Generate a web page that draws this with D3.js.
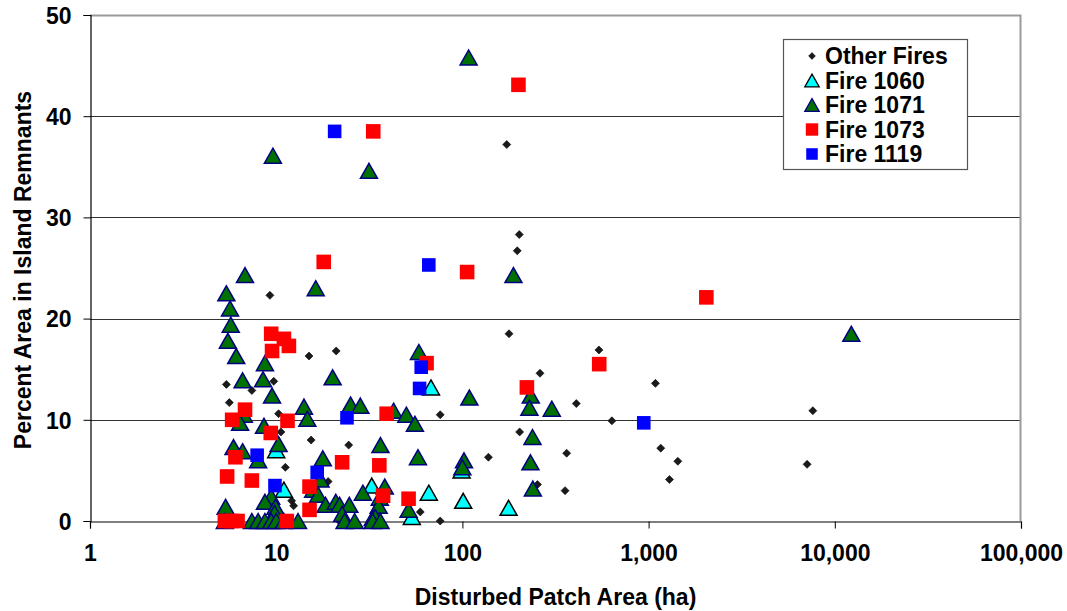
<!DOCTYPE html>
<html>
<head>
<meta charset="utf-8">
<script src="https://cdn.jsdelivr.net/npm/d3@7"></script>
<style>
  html, body { margin: 0; padding: 0; background: #fff; }
  svg { display: block; }
  text { font-family: "Liberation Sans", Arial, sans-serif; font-weight: bold; fill: #000; }
</style>
</head>
<body>
<svg id="chart" width="1067" height="611"></svg>
<script>
// Disturbed patch area (ha) vs. percent of area left in unburned island remnants
// Each point: [patch area (ha), percent area in island remnants]
const otherFires = [
  [173, 37.2], [202, 28.3], [197, 26.7], [178, 18.5], [541, 16.9], [261, 14.6],
  [1088, 13.6], [409, 11.6], [7620, 10.9], [635, 9.9], [203, 8.8], [363, 6.7],
  [1162, 7.2], [1435, 5.9], [1294, 4.1], [7100, 5.6], [253, 3.6], [356, 3.0],
  [138, 6.3], [76, 10.5], [24.5, 7.5], [59.4, 0.9], [76, 0], [21.8, 0],
  [15, 16.3], [21, 16.8], [9.25, 22.3], [5.4, 13.5], [9.7, 13.8], [7.4, 12.9],
  [5.6, 11.7], [10.3, 10.6], [10.6, 8.8], [11.2, 5.3], [12.1, 2.0], [12.4, 1.5],
  [15.4, 8.0], [19, 3.9]
];
const fire1060 = [
  [67.8, 13.2], [10, 7.0], [11, 3.1], [32.6, 3.5], [66, 2.8], [101, 2.0],
  [99, 5.0], [53.5, 0.4], [177, 1.3]
];
const fire1071 = [
  [108, 45.8], [9.6, 36.1], [31.5, 34.6], [188, 24.3], [12270, 18.5],
  [6.8, 24.3], [16.3, 23.0], [5.4, 22.5], [5.65, 21.0], [5.7, 19.4], [5.5, 17.8],
  [6.1, 16.3], [58.4, 16.7], [8.7, 15.6], [20.1, 14.2], [8.5, 14.0], [6.6, 13.9],
  [9.5, 12.4], [233, 12.4], [229, 11.2], [302, 11.1], [109, 12.2], [25.1, 11.5],
  [28.3, 11.4], [14.1, 11.3], [14.7, 10.1], [42.7, 10.9], [50, 10.5], [55.6, 9.6],
  [6.7, 10.5], [6.4, 9.7], [8.6, 9.4], [238, 8.3], [10.3, 7.6], [36.3, 7.5],
  [5.9, 7.3], [6.6, 6.9], [8.0, 6.0], [17.8, 6.2], [57.7, 6.3], [102, 6.0],
  [100, 5.3], [232, 5.8], [17.3, 4.1], [15.8, 3.1], [16.8, 2.6], [239, 3.2],
  [29.2, 2.8], [38.3, 3.4], [36, 2.3], [35.5, 1.5], [51.4, 1.1], [9.4, 2.4],
  [8.7, 1.9], [9.9, 1.4], [5.35, 1.4], [18.4, 1.6], [20.9, 1.9], [21.9, 1.6],
  [24.7, 1.6], [22.6, 0.7], [33, 0.3], [34, 0.4], [9.8, 0.8],
  [5.3, 0], [7.4, 0], [8.0, 0], [8.7, 0], [9.4, 0], [10.0, 0], [11, 0], [13.1, 0],
  [23.3, 0], [26.4, 0], [33, 0], [36.3, 0]
];
const fire1073 = [
  [200, 43.1], [33.2, 38.5], [18, 25.6], [106, 24.6], [2042, 22.1],
  [9.4, 18.5], [11.0, 18.0], [11.7, 17.3], [9.5, 16.8], [543, 15.5], [64.2, 15.6],
  [222, 13.2], [39.2, 10.6], [6.8, 11.0], [5.8, 10.0], [11.5, 9.9], [9.35, 8.7],
  [22.6, 5.8], [35.8, 5.5], [6.04, 6.3], [5.45, 4.4], [7.4, 4.0], [15.1, 3.4],
  [37.5, 2.5], [51.4, 2.2], [15.1, 1.1], [5.3, 0], [5.75, 0], [6.2, 0], [11.4, 0]
];
const fire1119 = [
  [20.6, 38.5], [66, 25.3], [60.1, 15.2], [58.9, 13.1], [24, 10.2], [942, 9.7],
  [7.9, 6.5], [16.6, 4.8], [9.85, 3.5]
];

const xTicks = [1, 10, 100, 1000, 10000, 100000];
const yTicks = [0, 10, 20, 30, 40, 50];
const seriesNames = ["Other Fires", "Fire 1060", "Fire 1071", "Fire 1073", "Fire 1119"];

const svg = d3.select("#chart");
const plotL = 90, plotR = 1021, plotT = 15, plotB = 521;
const fontSize = 23;

const x = d3.scaleLog().domain([1, 100000]).range([plotL, plotR]);
const y = d3.scaleLinear().domain([0, 50]).range([plotB, plotT]);

// horizontal gridlines
svg.append("g")
  .selectAll("line")
  .data(yTicks.filter(v => v > 0 && v < 50))
  .join("line")
  .attr("x1", plotL).attr("x2", plotR)
  .attr("y1", d => Math.round(y(d)) + 0.5).attr("y2", d => Math.round(y(d)) + 0.5)
  .attr("stroke", "#333").attr("stroke-width", 1);

// plot frame (top and right)
svg.append("path")
  .attr("d", `M${plotL},${plotT + 0.5}H${plotR - 0.5}V${plotB}`)
  .attr("fill", "none").attr("stroke", "#9a9a9a").attr("stroke-width", 2);

// axes
const fmt = d3.format(",");
const xAxis = svg.append("g")
  .attr("transform", `translate(0,${plotB + 0.5})`)
  .call(d3.axisBottom(x).tickValues(xTicks).tickFormat(fmt).tickSize(7).tickPadding(16));
const yAxis = svg.append("g")
  .attr("transform", `translate(${plotL + 0.5},0)`)
  .call(d3.axisLeft(y).tickValues(yTicks).tickSize(7).tickPadding(12));

[xAxis, yAxis].forEach(g => {
  g.select(".domain").attr("stroke", "#000").attr("stroke-width", 1.2);
  g.selectAll(".tick line").attr("stroke", "#000");
  g.selectAll(".tick text")
    .attr("font-family", '"Liberation Sans", Arial, sans-serif')
    .attr("font-weight", "bold")
    .attr("font-size", fontSize)
    .attr("fill", "#000");
});
yAxis.selectAll(".tick text").attr("dy", "0.36em");

// axis titles
svg.append("text")
  .attr("x", (plotL + plotR) / 2)
  .attr("y", 605)
  .attr("text-anchor", "middle")
  .attr("font-size", fontSize)
  .text("Disturbed Patch Area (ha)");
svg.append("text")
  .attr("transform", `translate(31,${(plotT + plotB) / 2 + 2}) rotate(-90)`)
  .attr("text-anchor", "middle")
  .attr("font-size", fontSize)
  .text("Percent Area in Island Remnants");

// marker shapes
const triPath = "M0,-7.5L8.5,7.5L-8.5,7.5Z";
const sqPath = s => `M${-s},${-s}H${s}V${s}H${-s}Z`;
const diaPath = "M0,-4L4,0L0,4L-4,0Z";

const styles = [
  { data: otherFires, d: diaPath, fill: "#1a1a1a", stroke: "#000", sw: 0.6 },
  { data: fire1060, d: triPath, fill: "#00ffff", stroke: "#000", sw: 1.5 },
  { data: fire1071, d: triPath, fill: "#007000", stroke: "#000080", sw: 1.5 },
  { data: fire1073, d: sqPath(7.3), fill: "#ff0000", stroke: "none", sw: 0 },
  { data: fire1119, d: sqPath(6.8), fill: "#0000ff", stroke: "none", sw: 0 }
];

styles.forEach(s => {
  svg.append("g")
    .selectAll("path")
    .data(s.data)
    .join("path")
    .attr("transform", d => `translate(${x(d[0])},${y(d[1])})`)
    .attr("d", s.d)
    .attr("fill", s.fill)
    .attr("stroke", s.stroke)
    .attr("stroke-width", s.sw)
    .attr("stroke-linejoin", "miter");
});

// legend
const lg = svg.append("g").attr("transform", "translate(783,39)");
lg.append("rect")
  .attr("x", 0.5).attr("y", 0.5).attr("width", 184).attr("height", 130)
  .attr("fill", "#fff").attr("stroke", "#555").attr("stroke-width", 1.2);
const items = lg.selectAll("g.item")
  .data(seriesNames)
  .join("g")
  .attr("class", "item")
  .attr("transform", (d, i) => `translate(0,${17 + i * 24.5})`);
items.append("path")
  .attr("transform", "translate(29,0) scale(0.85)")
  .attr("d", (d, i) => styles[i].d)
  .attr("fill", (d, i) => styles[i].fill)
  .attr("stroke", (d, i) => styles[i].stroke)
  .attr("stroke-width", (d, i) => styles[i].sw);
items.append("text")
  .attr("x", 42)
  .attr("dy", "0.36em")
  .attr("font-size", fontSize)
  .text(d => d);
</script>
</body>
</html>
